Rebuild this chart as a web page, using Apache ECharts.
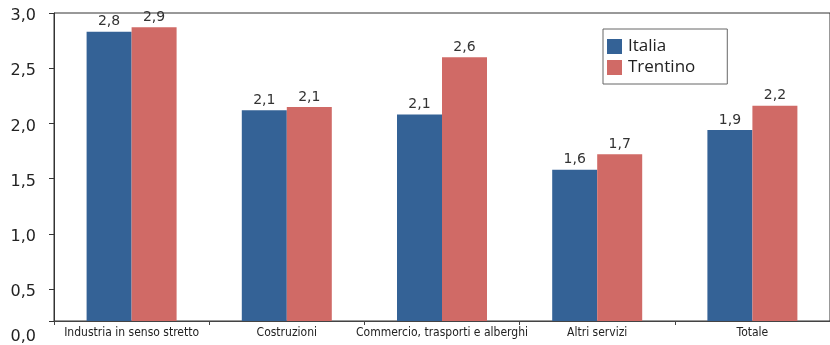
<!DOCTYPE html>
<html>
<head>
<meta charset="utf-8">
<script src="https://cdn.jsdelivr.net/npm/echarts@6/dist/echarts.min.js"></script>
<style>html,body{margin:0;padding:0;background:#fff}#c{width:830px;height:345px}</style>
</head>
<body>
<div id="c"></div>
<script>
const categories = ['Industria in senso stretto', 'Costruzioni', 'Commercio, trasporti e alberghi', 'Altri servizi', 'Totale'];
const italia = [2.83, 2.12, 2.08, 1.58, 1.94];
const trentino = [2.87, 2.149, 2.60, 1.72, 2.16];
const yTicks = [0.21, 0.5, 1.0, 1.5, 2.0, 2.5, 3.0];
const yMin = 0.21, yMax = 3.0;

const fmt = v => v.toFixed(1).replace('.', ',');
const chart = echarts.init(document.getElementById('c'), null, {renderer: 'canvas'});
const labelStyle = {
  show: true, position: 'top', distance: 3, color: '#333',
  fontFamily: 'DejaVu Sans', fontSize: 14,
  formatter: p => fmt(p.value)
};
chart.setOption({
  animation: false,
  grid: {left: 54, width: 786, top: 13, bottom: 20, show: true, borderColor: '#333', borderWidth: 1, backgroundColor: 'transparent'},
  legend: {
    orient: 'vertical', left: 603, top: 29,
    padding: [9, 32, 8, 4], itemGap: 4,
    itemWidth: 15, itemHeight: 15,
    borderColor: '#666', borderWidth: 1,
    textStyle: {fontFamily: 'Open Sans', fontSize: 17, color: '#222', padding: [0, 0, 0, 1]},
    data: [{name: 'Italia', icon: 'rect'}, {name: 'Trentino', icon: 'rect'}]
  },
  xAxis: {
    type: 'category', data: categories,
    axisLine: {lineStyle: {color: '#444', width: 1}},
    axisTick: {show: true, length: 4, lineStyle: {color: '#444'}},
    axisLabel: {margin: 6, color: '#222', fontFamily: '"DejaVu Sans Condensed", "Liberation Sans Narrow", sans-serif', fontSize: 12, interval: 0}
  },
  yAxis: {
    type: 'value', min: yMin, max: yMax,
    splitLine: {show: false},
    axisLine: {show: true, lineStyle: {color: '#333'}},
    axisTick: {show: true, length: 5, customValues: yTicks, lineStyle: {color: '#333'}},
    axisLabel: {
      customValues: yTicks, margin: 18, color: '#222', fontFamily: 'DejaVu Sans', fontSize: 16,
      padding: [6, 0, 0, 0],
      formatter: v => v < 0.3 ? '{z|0,0}' : fmt(v),
      rich: {z: {padding: [26, 0, 0, 0], fontFamily: 'DejaVu Sans', fontSize: 16, color: '#222'}}
    }
  },
  series: [
    {name: 'Italia', type: 'bar', data: italia, barWidth: 45, barGap: '0%', itemStyle: {color: '#346296'}, label: labelStyle},
    {name: 'Trentino', type: 'bar', data: trentino, barWidth: 45, barGap: '0%', itemStyle: {color: '#D06A66'}, label: labelStyle}
  ]
});
</script>
</body>
</html>
